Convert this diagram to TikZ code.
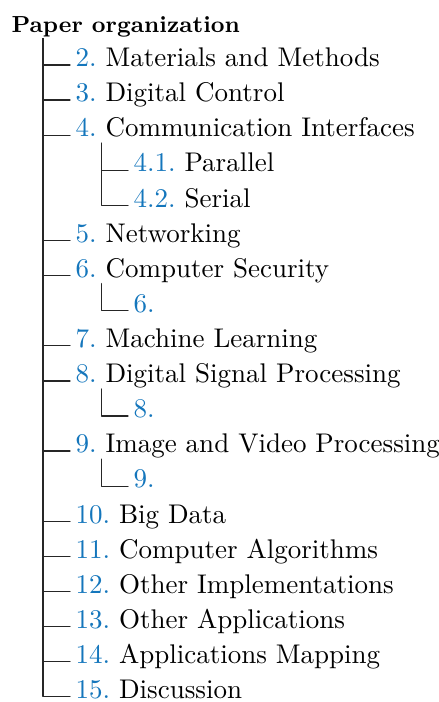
\documentclass[tikz,border=0pt]{standalone}
\definecolor{secblue}{RGB}{20,118,188}
\begin{document}
\begin{tikzpicture}[x=0.3704pt, y=-0.3704pt, line cap=round, line join=round,
    entry/.style={anchor=base west, inner sep=0pt, font=\fontsize{10}{12}\selectfont},
    branch/.style={black!85, line width=0.45pt}]
  \useasboundingbox (0,0) rectangle (438,702);
  % heading and trunk
  \node[anchor=base west, inner sep=0pt, font=\fontsize{8.6}{11}\selectfont\bfseries] (title) at (11,33) {Paper organization};
  \coordinate (top) at (43,39);
  % first level
  \node[entry] (s2) at (75,66.7) {\textcolor{secblue}{2.}\ Materials and Methods};
  \node[entry] (s3) at (75,101.8) {\textcolor{secblue}{3.}\ Digital Control};
  \node[entry] (s4) at (75,136.9) {\textcolor{secblue}{4.}\ Communication Interfaces};
  \node[entry] (s5) at (75,242.2) {\textcolor{secblue}{5.}\ Networking};
  \node[entry] (s6) at (75,277.3) {\textcolor{secblue}{6.}\ Computer Security};
  \node[entry] (s7) at (75,347.5) {\textcolor{secblue}{7.}\ Machine Learning};
  \node[entry] (s8) at (75,382.6) {\textcolor{secblue}{8.}\ Digital Signal Processing};
  \node[entry] (s9) at (75,452.8) {\textcolor{secblue}{9.}\ Image and Video Processing};
  \node[entry] (s10) at (75,523) {\textcolor{secblue}{10.}\ Big Data};
  \node[entry] (s11) at (75,558.1) {\textcolor{secblue}{11.}\ Computer Algorithms};
  \node[entry] (s12) at (75,593.2) {\textcolor{secblue}{12.}\ Other Implementations};
  \node[entry] (s13) at (75,628.3) {\textcolor{secblue}{13.}\ Other Applications};
  \node[entry] (s14) at (75,663.4) {\textcolor{secblue}{14.}\ Applications Mapping};
  \node[entry] (s15) at (75,698.5) {\textcolor{secblue}{15.}\ Discussion};
  % second level
  \node[entry] (s41) at (133,172) {\textcolor{secblue}{4.1.}\ Parallel};
  \node[entry] (s42) at (133,207.1) {\textcolor{secblue}{4.2.}\ Serial};
  \node[entry] (s61) at (133,312.4) {\textcolor{secblue}{6.}};
  \node[entry] (s81) at (133,417.7) {\textcolor{secblue}{8.}};
  \node[entry] (s91) at (133,487.9) {\textcolor{secblue}{9.}};
  \coordinate (top4) at (101.7,143.2);
  \coordinate (top6) at (101.7,283.6);
  \coordinate (top8) at (101.7,388.9);
  \coordinate (top9) at (101.7,459.1);
  % branches
  \foreach \n in {s2,s3,s4,s5,s6,s7,s8,s9,s10,s11,s12,s13,s14,s15}
    \draw[branch] (top) |- ([shift={(-5,-1.7)}]\n.base west);
  \draw[branch] (top4) |- ([shift={(-5,-1.7)}]s41.base west);
  \draw[branch] (top4) |- ([shift={(-5,-1.7)}]s42.base west);
  \draw[branch] (top6) |- ([shift={(-5,-1.7)}]s61.base west);
  \draw[branch] (top8) |- ([shift={(-5,-1.7)}]s81.base west);
  \draw[branch] (top9) |- ([shift={(-5,-1.7)}]s91.base west);
\end{tikzpicture}
\end{document}
